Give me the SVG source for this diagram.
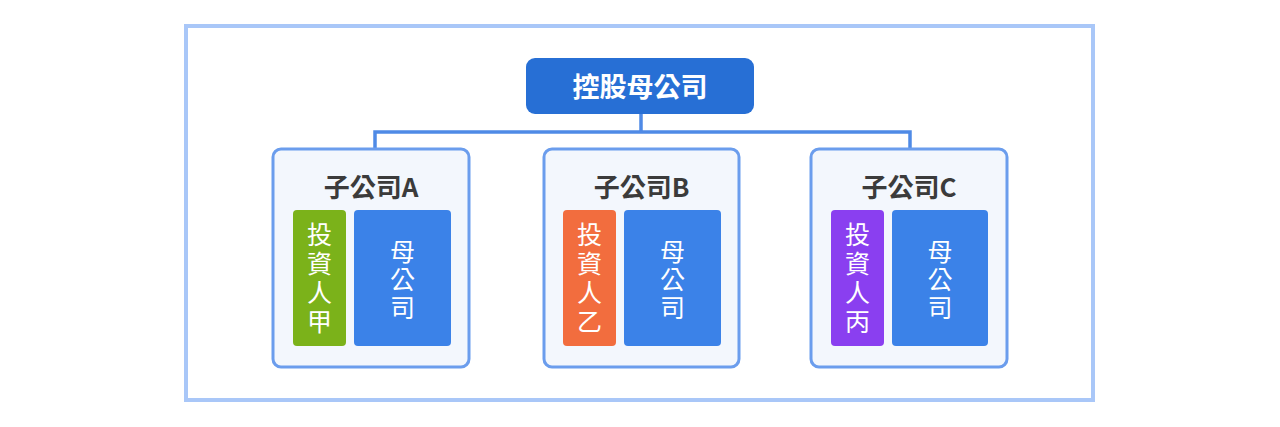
<svg xmlns="http://www.w3.org/2000/svg" width="1280" height="427" viewBox="0 0 1280 427">
<style>
.frame{fill:#ffffff;stroke:#a9c7f8;stroke-width:4}
.sub{fill:#f3f7fd;stroke:#6b9ded;stroke-width:3}
.conn{fill:none;stroke:#4f8ae6;stroke-width:3.5}
.title{font-family:"Noto Sans CJK TC","Noto Sans CJK SC",sans-serif;font-weight:bold;font-size:26px;fill:#3b3b3b;text-anchor:middle}
.top{font-family:"Noto Sans CJK TC","Noto Sans CJK SC",sans-serif;font-weight:bold;font-size:27px;fill:#ffffff;text-anchor:middle}
.v{font-family:"Noto Sans CJK TC","Noto Sans CJK SC",sans-serif;font-size:25px;fill:#ffffff;text-anchor:middle}
.parent{fill:#3b82e8}
</style>
<rect class="frame" x="186" y="26" width="907" height="374"/>
<g id="connectors">
<path class="conn" d="M641 114 V132 M375 150 V132 H910 V150"/>
</g>
<g id="holding">
<rect x="526" y="58" width="228" height="56" rx="9" fill="#276fd5"/>
<text class="top" x="640" y="97">控股母公司</text>
</g>
<g id="subA">
<rect class="sub" x="273" y="149" width="196" height="218" rx="8"/>
<text class="title" x="371" y="197">子公司A</text>
<rect x="293" y="210" width="53" height="136" rx="4" fill="#7bb21a"/>
<text class="v" x="319.5" y="244">投</text>
<text class="v" x="319.5" y="273">資</text>
<text class="v" x="319.5" y="302">人</text>
<text class="v" x="319.5" y="331">甲</text>
<rect class="parent" x="354" y="210" width="97" height="136" rx="4"/>
<text class="v" x="402.5" y="261">母</text>
<text class="v" x="402.5" y="289">公</text>
<text class="v" x="402.5" y="317">司</text>
</g>
<g id="subB">
<rect class="sub" x="544" y="149" width="195" height="218" rx="8"/>
<text class="title" x="641.5" y="197">子公司B</text>
<rect x="563" y="210" width="53" height="136" rx="4" fill="#f26d3e"/>
<text class="v" x="589.5" y="244">投</text>
<text class="v" x="589.5" y="273">資</text>
<text class="v" x="589.5" y="302">人</text>
<text class="v" x="589.5" y="331">乙</text>
<rect class="parent" x="624" y="210" width="97" height="136" rx="4"/>
<text class="v" x="672.5" y="261">母</text>
<text class="v" x="672.5" y="289">公</text>
<text class="v" x="672.5" y="317">司</text>
</g>
<g id="subC">
<rect class="sub" x="811" y="149" width="196" height="218" rx="8"/>
<text class="title" x="909" y="197">子公司C</text>
<rect x="831" y="210" width="53" height="136" rx="4" fill="#8a3ff0"/>
<text class="v" x="857.5" y="244">投</text>
<text class="v" x="857.5" y="273">資</text>
<text class="v" x="857.5" y="302">人</text>
<text class="v" x="857.5" y="331">丙</text>
<rect class="parent" x="892" y="210" width="96" height="136" rx="4"/>
<text class="v" x="940" y="261">母</text>
<text class="v" x="940" y="289">公</text>
<text class="v" x="940" y="317">司</text>
</g>
</svg>
